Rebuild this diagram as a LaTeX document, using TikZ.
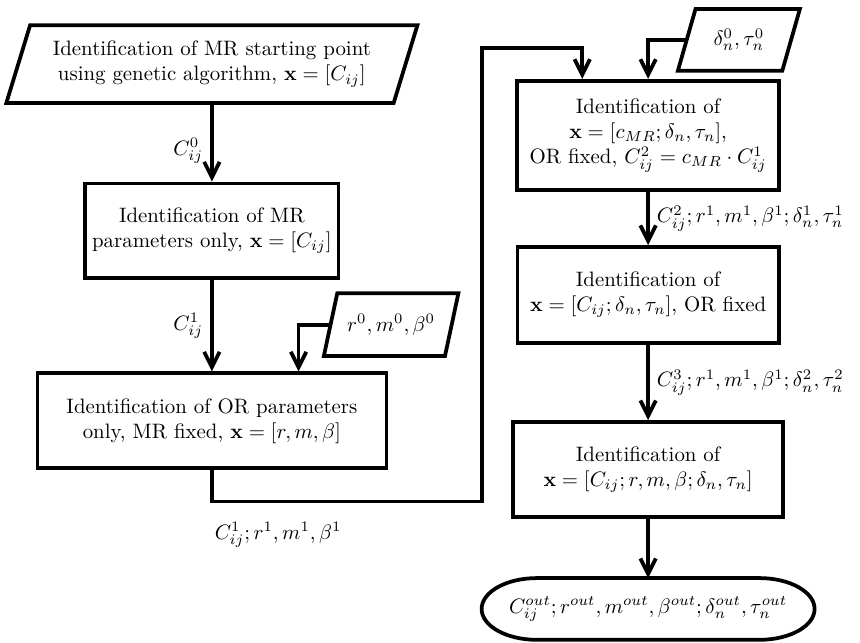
\documentclass[tikz,border=0pt]{standalone}
\usepackage{amsmath}
\usepackage{amssymb}
\usetikzlibrary{shapes.geometric, arrows.meta, positioning}

\begin{document}
\begin{tikzpicture}[line width=1.8pt, >={Straight Barb[length=2.6mm, width=2.6mm]}, block/.style={rectangle, draw, align=center, minimum height=16mm}, iobox/.style={trapezium, trapezium left angle=70, trapezium right angle=110, trapezium stretches=true, draw, align=center}, termbox/.style={rectangle, minimum height=10.4mm, outer sep=0pt}]

  \useasboundingbox (-35.7mm,10.8mm) rectangle (109.2mm,-97.4mm);

  % left column
  \node[iobox, minimum width=69.3mm, minimum height=13.1mm] (start) {Identification of MR starting point\\ using genetic algorithm, $\mathbf{x}=[C_{ij}]$};
  \node[block, below of=start, node distance=28.1mm, minimum width=42.6mm] (mrpar) {Identification of MR\\ parameters only, $\mathbf{x}=[C_{ij}]$};
  \node[block, below of=mrpar, node distance=32mm, minimum width=58.8mm] (orpar) {Identification of OR parameters\\ only, MR fixed, $\mathbf{x}=[r,m,\beta]$};
  \node[iobox, right of=orpar, node distance=30.2mm, yshift=16.2mm, minimum width=22.7mm, minimum height=10.6mm] (orinit) {$r^0,m^0,\beta^0$};
  \coordinate (orin) at ([xshift=14.6mm]orpar.north);
  \node[coordinate, below of=orpar, node distance=13.6mm] (loopa) {};

  % right column
  \node[block, right of=start, node distance=73.5mm, yshift=-12mm, minimum width=44.1mm, minimum height=18.4mm] (cmr) {Identification of\\ $\mathbf{x}=[c_{MR};\delta_n,\tau_n]$,\\ OR fixed, $C^2_{ij}=c_{MR}\cdot C^1_{ij}$};
  \node[iobox, right of=cmr, node distance=15.3mm, yshift=16.1mm, minimum width=20.6mm, minimum height=10.4mm] (dtinit) {$\delta^0_n,\tau^0_n$};
  \node[block, below of=cmr, node distance=26.9mm, minimum width=44mm, minimum height=16.2mm] (cdt) {Identification of\\ $\mathbf{x}=[C_{ij};\delta_n,\tau_n]$, OR fixed};
  \node[block, below of=cdt, node distance=29.4mm, minimum width=45.5mm] (full) {Identification of\\ $\mathbf{x}=[C_{ij};r,m,\beta;\delta_n,\tau_n]$};
  \node[termbox, below of=full, node distance=23.5mm, minimum width=56.1mm] (result) {$C^{out}_{ij};r^{out},m^{out},\beta^{out};\delta^{out}_n,\tau^{out}_n$};
  \node[coordinate, left of=cmr, node distance=28mm, yshift=14.7mm] (loopc) {};
  \coordinate (cmrin) at ([xshift=-11.1mm]cmr.north);

  % terminal outline
  \draw ([xshift=9.3mm]result.north west) -- ([xshift=-9.3mm]result.north east) arc[start angle=90, end angle=-90, x radius=9.3mm, y radius=5.2mm] -- ([xshift=9.3mm]result.south west) arc[start angle=270, end angle=90, x radius=9.3mm, y radius=5.2mm] -- cycle;

  \draw[->] (start) -- node[left, pos=0.6] {$C^0_{ij}$} (mrpar);
  \draw[->] (mrpar) -- node[left] {$C^1_{ij}$} (orpar);
  \draw[->] (orinit) -| (orin);
  \draw[->] (orpar) -- (loopa) node[below right, xshift=-1mm, yshift=-2mm] {$C^1_{ij};r^1,m^1,\beta^1$} -| (loopc) -| (cmrin);
  \draw[->] (dtinit) -| (cmr);
  \draw[->] (cmr) -- node[right] {$C^2_{ij};r^1,m^1,\beta^1;\delta^1_n,\tau^1_n$} (cdt);
  \draw[->] (cdt) -- node[right] {$C^3_{ij};r^1,m^1,\beta^1;\delta^2_n,\tau^2_n$} (full);
  \draw[->] (full) -- (result);
\end{tikzpicture}
\end{document}
